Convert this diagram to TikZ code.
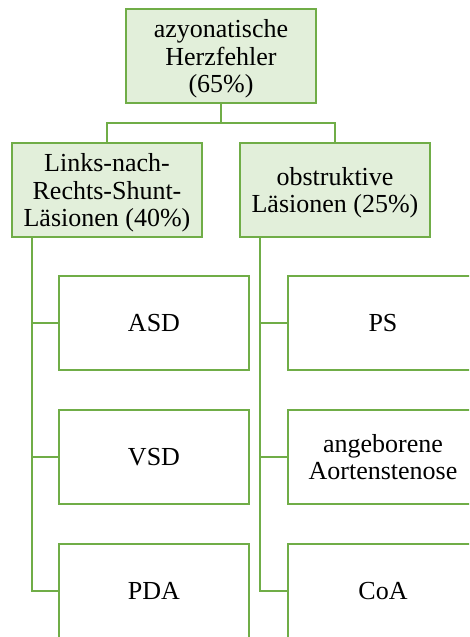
\documentclass[tikz,border=0pt]{standalone}
\usepackage{fontspec}
\setmainfont{Liberation Serif}
\definecolor{gruen}{RGB}{112,173,71}
\definecolor{hellgruen}{RGB}{226,239,218}
\tikzset{
  kasten/.style={draw=gruen,line width=1.3pt,minimum width=142.5pt,minimum height=71pt,
    inner sep=0pt,align=center,font=\fontsize{19.5}{20.5}\selectfont},
  gruppe/.style={kasten,fill=hellgruen},
  blatt/.style={kasten,fill=white},
  mehrzeilig/.style={text depth=0pt},
  linie/.style={draw=gruen,line width=1.3pt}
}
\begin{document}
\begin{tikzpicture}[x=0.75pt,y=-0.75pt]
	\useasboundingbox (0,0) rectangle (469,637);
	\clip (0,0) rectangle (469,637);
	\node[gruppe,mehrzeilig] (herz) at (221,56) {azyonatische\\Herzfehler\\(65\%)};
	\node[gruppe,mehrzeilig] (lrs) at (107,190) {Links-nach-\\Rechts-Shunt-\\Läsionen (40\%)};
	\node[gruppe,mehrzeilig] (obs) at (335,190) {obstruktive\\Läsionen (25\%)};
	\node[blatt] (asd) at (154,323) {ASD};
	\node[blatt] (vsd) at (154,457) {VSD};
	\node[blatt] (pda) at (154,591) {PDA};
	\node[blatt] (ps) at (383,323) {PS};
	\node[blatt,mehrzeilig] (as) at (383,457) {angeborene\\Aortenstenose};
	\node[blatt] (coa) at (383,591) {CoA};
	\coordinate (gabel) at (221,123);
	\coordinate (lstiel) at (32,237);
	\coordinate (rstiel) at (260,237);
	\draw[linie] (herz.south) -- (gabel) -| (lrs.north);
	\draw[linie] (gabel) -| (obs.north);
	\draw[linie] (lstiel) |- (asd.west);
	\draw[linie] (lstiel) |- (vsd.west);
	\draw[linie] (lstiel) |- (pda.west);
	\draw[linie] (rstiel) |- (ps.west);
	\draw[linie] (rstiel) |- (as.west);
	\draw[linie] (rstiel) |- (coa.west);
\end{tikzpicture}
\end{document}
